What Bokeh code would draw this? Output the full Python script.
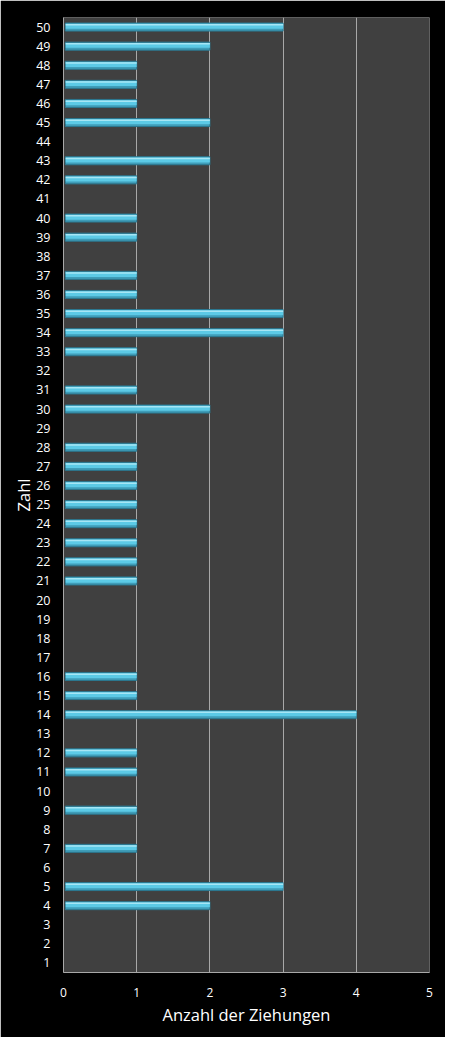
from bokeh.plotting import figure
from bokeh.models import ColumnDataSource, FactorRange
from bokeh.transform import dodge
from bokeh.embed import file_html
from bokeh.resources import INLINE

numbers = [str(i) for i in range(1, 51)]
counts = [0, 0, 0, 2, 3, 0, 1, 0, 1, 0,
          1, 1, 0, 4, 1, 1, 0, 0, 0, 0,
          1, 1, 1, 1, 1, 1, 1, 1, 0, 2,
          1, 0, 1, 3, 3, 1, 1, 0, 1, 1,
          0, 1, 2, 0, 2, 1, 1, 1, 2, 3]
x_ticks = [0, 1, 2, 3, 4, 5]

nz = [(n, c) for n, c in zip(numbers, counts) if c > 0]
src = ColumnDataSource(dict(y=[n for n, _ in nz], right=[c for _, c in nz]))

p = figure(width=445, height=1037, y_range=FactorRange(factors=numbers),
           x_range=(0, 5), output_backend="svg", toolbar_location=None,
           min_border_left=63, min_border_right=16, min_border_top=17, min_border_bottom=65)
p.background_fill_color = "#404040"
p.border_fill_color = "black"
p.outline_line_color = None

# bar body, highlight and shadow
p.hbar(y="y", right="right", left=0.025, height=0.42, source=src,
       fill_color="#3f9db8", line_color="#2b7890", line_width=1)
p.hbar(y=dodge("y", 0.04, range=p.y_range), right="right", left=0.03, height=0.26, source=src,
       fill_color="#5ccae6", line_color=None)
p.hbar(y=dodge("y", 0.12, range=p.y_range), right="right", left=0.03, height=0.08, source=src,
       fill_color="#a6e6f5", line_color=None)

p.xaxis.ticker = x_ticks
p.xgrid.grid_line_color = "#a8a8a8"
p.xgrid.grid_line_width = 1
p.ygrid.grid_line_color = None

for ax in (p.xaxis, p.yaxis):
    ax.axis_line_color = "#a8a8a8"
    ax.major_tick_line_color = None
    ax.minor_tick_line_color = None
    ax.major_label_text_color = "white"
    ax.major_label_text_font = "Open Sans"
    ax.major_label_text_font_size = "12.5px"
    ax.axis_label_text_color = "white"
    ax.axis_label_text_font = "Open Sans"
    ax.axis_label_text_font_size = "16.5px"
    ax.axis_label_text_font_style = "normal"

p.xaxis.major_label_text_font_size = "12px"
p.xaxis.axis_label = "Anzahl der Ziehungen"
p.yaxis.axis_label = "Zahl"
p.xaxis.major_label_standoff = 9
p.xaxis.axis_label_standoff = 3
p.yaxis.major_label_standoff = 7
p.yaxis.axis_label_standoff = -2

open("out.html", "w").write(file_html(p, INLINE))
